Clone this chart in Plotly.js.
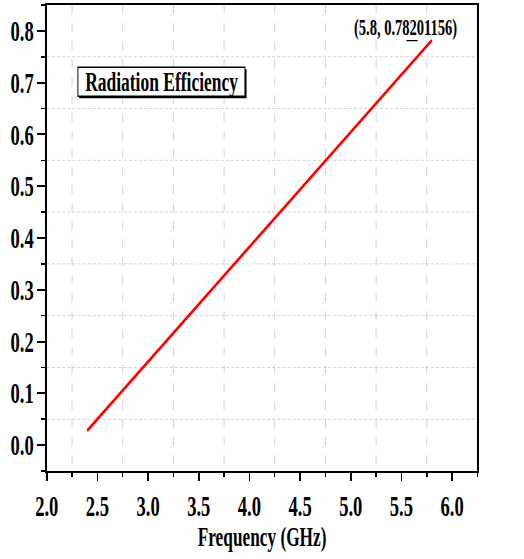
<!DOCTYPE html>
<html>
<head>
<meta charset="utf-8">
<script src="https://cdn.plot.ly/plotly-3.0.1.min.js"></script>
<style>
  html, body { margin: 0; padding: 0; background: #fff; }
  #wrap { width: 524px; height: 559px; overflow: hidden; position: relative; }
  #chart { width: 819px; height: 559px; transform: scaleX(0.64); transform-origin: 0 0; }
</style>
</head>
<body>
<div id="wrap"><div id="chart"></div></div>
<script>
// Data
const seriesName = "Radiation Efficiency";
const frequencyGHz = [2.4, 5.8];
const efficiency = [0.028, 0.78201156];
const xTickVals = [2.0, 2.5, 3.0, 3.5, 4.0, 4.5, 5.0, 5.5, 6.0];
const yTickVals = [0.0, 0.1, 0.2, 0.3, 0.4, 0.5, 0.6, 0.7, 0.8];
const peakLabel = "(5.8, 0.78201156)";

const FONT = "Liberation Serif, Times New Roman, serif";
const xRange = [2.0, 6.25];
const yRange = [-0.05, 0.85];
const gridColor = "#cccccc";

const tickFont = { family: FONT, size: 29, color: "#000", weight: "bold" };

const trace = {
  x: frequencyGHz,
  y: efficiency,
  type: "scatter",
  mode: "lines",
  name: seriesName,
  line: { color: "#ff0000", width: 3.2 },
  showlegend: false,
  hoverinfo: "skip"
};

const lastX = frequencyGHz[frequencyGHz.length - 1];
const lastY = efficiency[efficiency.length - 1];
const boxX = 3.135, boxY = 0.701;

const layout = {
  width: 819,
  height: 559,
  margin: { l: 73, r: 73, t: 5, b: 88 },
  paper_bgcolor: "#fff",
  plot_bgcolor: "#fff",
  showlegend: false,
  xaxis: {
    range: xRange,
    tickvals: xTickVals,
    ticktext: xTickVals.map(v => v.toFixed(1)),
    ticks: "outside", ticklen: 8, tickwidth: 2.7, tickcolor: "#000",
    showline: true, linewidth: 2, linecolor: "#000", mirror: true,
    showgrid: false, zeroline: false,
    tickfont: tickFont,
    minor: { dtick: 0.5, tick0: 2.25, ticks: "outside", ticklen: 4, tickwidth: 2.3, tickcolor: "#000",
             showgrid: true, gridcolor: gridColor, gridwidth: 1.3, griddash: "dash" },
    title: { text: "Frequency (GHz)", font: { family: FONT, size: 27, color: "#000", weight: "bold" }, standoff: 5 }
  },
  xaxis2: {
    overlaying: "x", side: "top", anchor: "y",
    range: xRange, tickvals: xTickVals,
    ticks: "inside", ticklen: 3, tickwidth: 2, tickcolor: "#000",
    showticklabels: false, showgrid: false, zeroline: false, showline: false,
    minor: { dtick: 0.5, tick0: 2.25, ticks: "inside", ticklen: 3, tickwidth: 2, tickcolor: "#000", showgrid: false }
  },
  yaxis: {
    range: yRange,
    tickvals: yTickVals,
    ticktext: yTickVals.map(v => v.toFixed(1)),
    ticks: "outside", ticklen: 11.5, tickwidth: 2, tickcolor: "#000",
    showline: true, linewidth: 3.1, linecolor: "#000", mirror: true,
    showgrid: false, zeroline: false,
    tickfont: tickFont,
    ticklabelstandoff: 0,
    minor: { dtick: 0.1, tick0: 0.05, ticks: "outside", ticklen: 6, tickwidth: 1.6, tickcolor: "#000",
             showgrid: true, gridcolor: gridColor, gridwidth: 1, griddash: "5px,3px" }
  },
  yaxis2: {
    overlaying: "y", side: "right", anchor: "x",
    range: yRange,
    tickvals: yTickVals,
    ticktext: yTickVals.map(v => v.toFixed(1)),
    ticks: "outside", ticklen: 11.5, tickwidth: 2, tickcolor: "#000",
    showline: false, showgrid: false, zeroline: false,
    tickfont: tickFont,
    ticklabelstandoff: 6,
    minor: { dtick: 0.1, tick0: 0.05, ticks: "outside", ticklen: 6, tickwidth: 1.6, tickcolor: "#000", showgrid: false }
  },
  annotations: [
    {
      x: boxX, y: boxY, xref: "x", yref: "y",
      text: seriesName, showarrow: false,
      font: { family: FONT, size: 27.3, color: "#000", weight: "bold" }
    },
    {
      x: 5.537, y: 0.806, xref: "x", yref: "y",
      text: peakLabel, showarrow: false,
      font: { family: FONT, size: 22.7, color: "#000", weight: "bold" }
    }
  ],
  shapes: [
    {
      // legend-box shadow
      type: "rect", layer: "between", xref: "x", yref: "y",
      xsizemode: "pixel", ysizemode: "pixel", xanchor: boxX, yanchor: boxY,
      x0: -129, x1: 132.5, y0: 13, y1: -16,
      fillcolor: "#000", line: { width: 0 }
    },
    {
      // legend box
      type: "rect", layer: "between", xref: "x", yref: "y",
      xsizemode: "pixel", ysizemode: "pixel", xanchor: boxX, yanchor: boxY,
      x0: -131, x1: 130, y0: 15, y1: -14,
      fillcolor: "#fff", line: { color: "#000", width: 1.5 }
    },
    {
      type: "line", xref: "x", yref: "y",
      x0: lastX - 0.25, x1: lastX - 0.14,
      y0: lastY - 0.001, y1: lastY - 0.001,
      line: { color: "#000", width: 1.2 }
    }
  ]
};

Plotly.newPlot("chart", [trace], layout, { displayModeBar: false, staticPlot: true });
</script>
</body>
</html>
